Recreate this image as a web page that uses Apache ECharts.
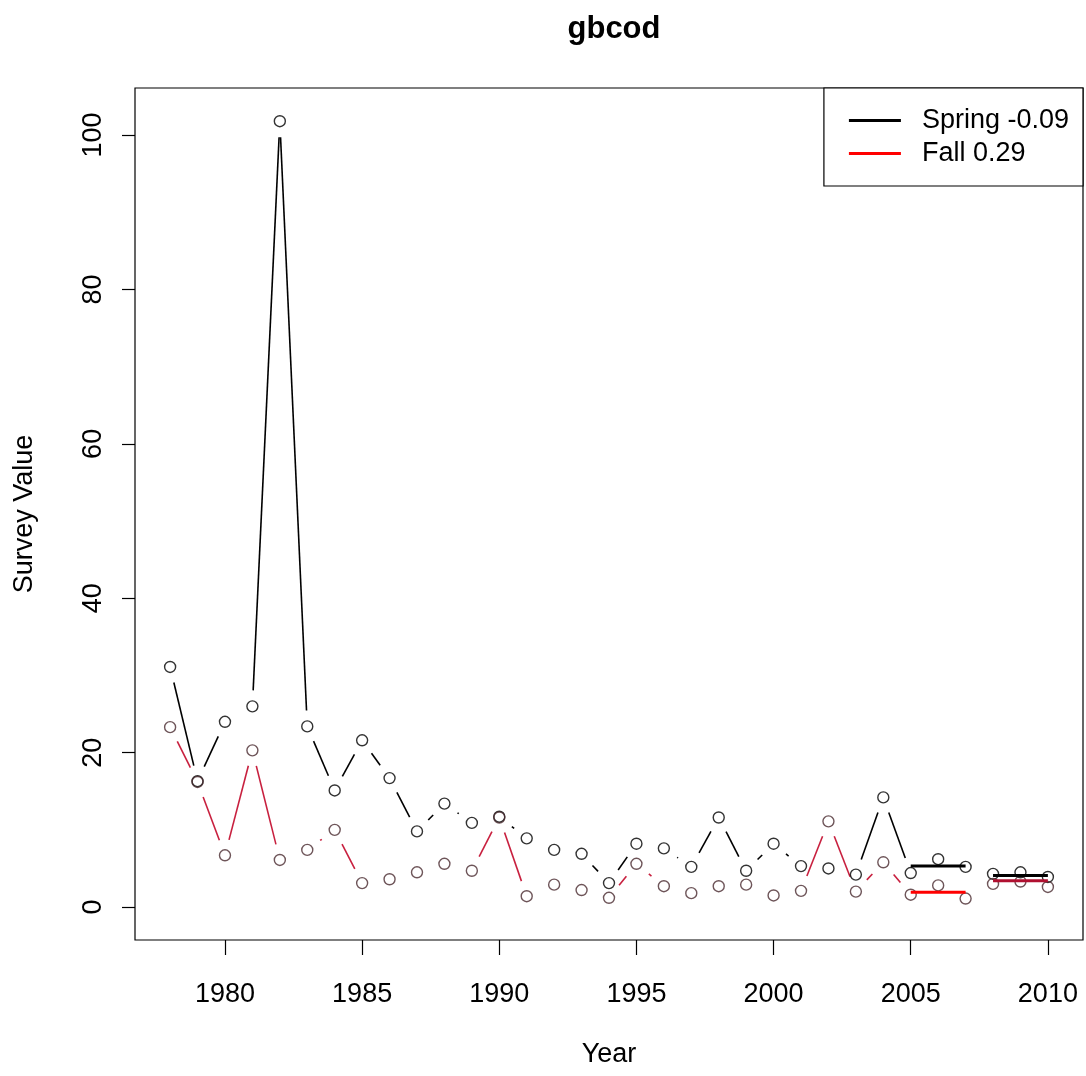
<!DOCTYPE html>
<html>
<head>
<meta charset="utf-8">
<title>gbcod</title>
<script src="https://cdn.jsdelivr.net/npm/echarts@6/dist/echarts.min.js"></script>
<style>
  html, body { margin: 0; padding: 0; background: #fff; }
  #chart { width: 1086px; height: 1076px; }
</style>
</head>
<body>
<div id="chart"></div>
<script>
// Survey index by year, spring and fall
const years = [1978, 1979, 1980, 1981, 1982, 1983, 1984, 1985, 1986, 1987, 1988,
               1989, 1990, 1991, 1992, 1993, 1994, 1995, 1996, 1997, 1998, 1999,
               2000, 2001, 2002, 2003, 2004, 2005, 2006, 2007, 2008, 2009, 2010];
const spring = [31.1, 16.3, 24.0, 26.0, 101.8, 23.4, 15.1, 21.6, 16.7, 9.8, 13.4,
                10.9, 11.7, 8.9, 7.4, 6.9, 3.1, 8.2, 7.6, 5.2, 11.6, 4.7,
                8.2, 5.3, 5.0, 4.2, 14.2, 4.4, 6.2, 5.2, 4.3, 4.5, 3.9];
const fall = [23.3, 16.2, 6.7, 20.3, 6.1, 7.4, 10.0, 3.1, 3.6, 4.5, 5.6,
              4.7, 11.6, 1.4, 2.9, 2.2, 1.2, 5.6, 2.7, 1.8, 2.7, 2.9,
              1.5, 2.1, 11.1, 2.0, 5.8, 1.6, 2.8, 1.1, 3.0, 3.3, 2.6];

// Period means drawn as thick horizontal bars
const periodA = [2005, 2007];
const periodB = [2008, 2010];
const springMeans = [5.3, 4.1];
const fallMeans = [1.9, 3.4];

// Axis ticks
const xTicks = [1980, 1985, 1990, 1995, 2000, 2005, 2010];
const yTicks = [0, 20, 40, 60, 80, 100];

const springName = 'Spring -0.09';
const fallName = 'Fall 0.29';
const FONT = '"Liberation Sans", Arial, sans-serif';

// Consecutive point pairs for "points + broken lines" style
function pairs(xs, ys) {
  const out = [];
  for (let i = 0; i < xs.length - 1; i++) out.push([xs[i], ys[i], xs[i + 1], ys[i + 1]]);
  return out;
}

// Draws each segment shortened at both ends, leaving a gap around the points
function gappedSegment(color) {
  const gap = 16;
  return function (params, api) {
    const p0 = api.coord([api.value(0), api.value(1)]);
    const p1 = api.coord([api.value(2), api.value(3)]);
    const dx = p1[0] - p0[0], dy = p1[1] - p0[1];
    const len = Math.sqrt(dx * dx + dy * dy);
    if (len <= 2 * gap) return null;
    const ux = dx / len, uy = dy / len;
    return {
      type: 'line',
      shape: { x1: p0[0] + ux * gap, y1: p0[1] + uy * gap, x2: p1[0] - ux * gap, y2: p1[1] - uy * gap },
      style: { stroke: color, lineWidth: 1.6 }
    };
  };
}

function meanBar(name, period, value, color) {
  return {
    name: name, type: 'line', silent: true, symbol: 'none', z: 4,
    data: [[period[0], value], [period[1], value]],
    lineStyle: { color: color, width: 3 }, itemStyle: { color: color }
  };
}

const chart = echarts.init(document.getElementById('chart'), null, { renderer: 'canvas' });

chart.setOption({
  animation: false,
  backgroundColor: '#fff',
  title: {
    text: 'gbcod', left: 609, top: 9, textAlign: 'center',
    textStyle: { fontFamily: FONT, fontWeight: 'bold', fontSize: 31, color: '#000' }
  },
  grid: {
    left: 135, right: 3, top: 88, bottom: 136, show: true,
    borderColor: '#000', borderWidth: 1.2, outerBoundsMode: 'none', containLabel: false
  },
  legend: {
    orient: 'vertical', right: 3, top: 88,
    padding: [19, 14, 19, 25], itemGap: 6,
    itemWidth: 52, itemHeight: 3, icon: 'rect',
    borderColor: '#000', borderWidth: 1.2, backgroundColor: '#fff',
    selectedMode: false,
    textStyle: { fontFamily: FONT, fontSize: 27, color: '#000', padding: [0, 0, 0, 16] },
    data: [
      { name: springName, itemStyle: { color: '#000' } },
      { name: fallName, itemStyle: { color: '#ff0000' } }
    ]
  },
  xAxis: {
    type: 'value', min: 1976.72, max: 2011.28,
    name: 'Year', nameLocation: 'middle', nameGap: 101,
    nameTextStyle: { fontFamily: FONT, fontSize: 27, color: '#000' },
    axisLine: { show: false, onZero: false },
    axisTick: { show: true, length: 15, inside: false, customValues: xTicks, lineStyle: { color: '#000', width: 1.2 } },
    axisLabel: {
      customValues: xTicks, margin: 41, fontFamily: FONT, fontSize: 27, color: '#000',
      formatter: (v) => String(v)
    },
    splitLine: { show: false }
  },
  yAxis: {
    type: 'value', min: -4.27, max: 106.1,
    name: 'Survey Value', nameLocation: 'middle', nameGap: 97,
    nameTextStyle: { fontFamily: FONT, fontSize: 27, color: '#000' },
    axisLine: { show: false, onZero: false },
    axisTick: { show: true, length: 13, inside: false, customValues: yTicks, lineStyle: { color: '#000', width: 1.2 } },
    axisLabel: {
      customValues: yTicks, rotate: 90, margin: 28, fontFamily: FONT, fontSize: 27, color: '#000',
      formatter: (v) => String(v)
    },
    splitLine: { show: false }
  },
  series: [
    {
      name: springName, type: 'custom', renderItem: gappedSegment('#000'),
      data: pairs(years, spring), encode: { x: [0, 2], y: [1, 3] },
      itemStyle: { color: '#000' }, silent: true, z: 2
    },
    {
      name: springName, type: 'scatter', symbol: 'circle', symbolSize: 11,
      data: years.map((y, i) => [y, spring[i]]),
      itemStyle: { color: 'rgba(0,0,0,0)', borderColor: '#000', borderWidth: 1.4 },
      silent: true, z: 3
    },
    {
      name: fallName, type: 'custom', renderItem: gappedSegment('#c8203f'),
      data: pairs(years, fall), encode: { x: [0, 2], y: [1, 3] },
      itemStyle: { color: '#ff0000' }, silent: true, z: 2
    },
    {
      name: fallName, type: 'scatter', symbol: 'circle', symbolSize: 11,
      data: years.map((y, i) => [y, fall[i]]),
      itemStyle: { color: 'rgba(0,0,0,0)', borderColor: '#4a2a30', borderWidth: 1.4 },
      silent: true, z: 3
    },
    meanBar(fallName, periodA, fallMeans[0], '#ff0000'),
    meanBar(springName, periodA, springMeans[0], '#000'),
    meanBar(fallName, periodB, fallMeans[1], '#b01030'),
    meanBar(springName, periodB, springMeans[1], '#000')
  ]
});
</script>
</body>
</html>
